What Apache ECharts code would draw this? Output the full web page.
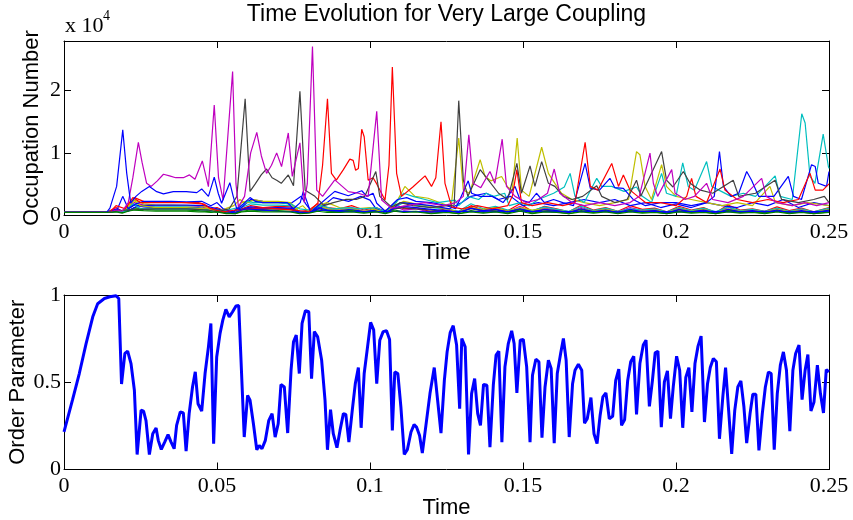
<!DOCTYPE html>
<html>
<head>
<meta charset="utf-8">
<script src="https://cdn.jsdelivr.net/npm/echarts@6/dist/echarts.min.js"></script>
<style>html,body{margin:0;padding:0;background:#fff}#c{width:853px;height:520px}</style>
</head>
<body>
<div id="c"></div>
<script>
// ---------- DATA ----------
// Time tick labels (both panels)
const timeTicks = ['0', '0.05', '0.1', '0.15', '0.2', '0.25'];
const occTicks = ['0', '1', '2'];
const orderTicks = ['0', '0.5', '1'];

// Occupation numbers, in units of 10^4: [time, value]
const occMagenta = [[0,0.043],[0.015,0.045],[0.017,0.08],[0.019,0.06],[0.021,0.2],[0.0225,0.6],[0.0243,1.17],[0.0255,0.85],[0.027,0.51],[0.0285,0.46],[0.0305,0.55],[0.0325,0.656],[0.0345,0.63],[0.0365,0.6],[0.039,0.6],[0.041,0.645],[0.0428,0.575],[0.0452,0.87],[0.0472,0.457],[0.0491,1.77],[0.0505,0.6],[0.052,0.24],[0.0551,2.31],[0.0562,0.5],[0.057,0.13],[0.059,0.3],[0.061,1.0],[0.063,1.33],[0.0645,0.95],[0.0662,0.67],[0.0678,0.8],[0.0695,1.0],[0.0711,0.78],[0.0733,1.32],[0.0746,0.62],[0.0771,1.16],[0.0785,0.2],[0.0795,0.5],[0.0812,2.71],[0.0826,0.40],[0.0845,0.3],[0.0885,0.565],[0.0929,0.376],[0.0962,0.35],[0.0994,0.30],[0.1022,1.667],[0.1038,0.24],[0.107,0.11],[0.112,0.15],[0.118,0.2],[0.124,0.15],[0.128,0.2],[0.1305,0.3],[0.1323,1.29],[0.1337,0.51],[0.1362,0.44],[0.1392,0.70],[0.1408,0.51],[0.1432,1.22],[0.1446,0.46],[0.1474,0.3],[0.151,0.2],[0.155,0.25],[0.158,0.35],[0.1602,0.74],[0.162,0.35],[0.166,0.2],[0.17,0.15],[0.175,0.2],[0.18,0.15],[0.185,0.2],[0.188,0.3],[0.1915,0.995],[0.1926,0.51],[0.194,0.3],[0.1986,0.73],[0.1997,0.35],[0.203,0.25],[0.206,0.3],[0.21,0.51],[0.212,0.25],[0.217,0.2],[0.222,0.3],[0.228,0.59],[0.2295,0.3],[0.233,0.2],[0.238,0.15],[0.242,0.2],[0.246,0.15],[0.25,0.2]];
const occGray = [[0,0.043],[0.015,0.045],[0.02,0.08],[0.03,0.1],[0.04,0.1],[0.047,0.08],[0.05,0.05],[0.054,0.1],[0.0565,0.3],[0.0592,1.87],[0.0608,0.38],[0.0625,0.5],[0.0645,0.65],[0.0662,0.74],[0.068,0.6],[0.0695,0.56],[0.071,0.51],[0.0733,0.645],[0.075,0.47],[0.0771,1.99],[0.0788,0.40],[0.0804,0.35],[0.082,0.3],[0.085,0.15],[0.088,0.2],[0.092,0.25],[0.0955,0.25],[0.0983,0.3],[0.1019,0.70],[0.1032,0.3],[0.107,0.13],[0.11,0.2],[0.114,0.15],[0.12,0.12],[0.125,0.15],[0.1275,0.16],[0.129,1.84],[0.1305,0.56],[0.132,0.3],[0.136,0.73],[0.1387,0.56],[0.142,0.35],[0.145,0.25],[0.148,0.83],[0.1495,0.35],[0.1523,0.79],[0.1539,0.46],[0.1561,0.86],[0.1583,0.51],[0.1604,0.46],[0.1632,0.3],[0.166,0.25],[0.1695,0.3],[0.1741,0.47],[0.1757,0.3],[0.18,0.2],[0.184,0.25],[0.1871,0.56],[0.1885,0.3],[0.1953,1.02],[0.1969,0.56],[0.199,0.45],[0.2024,0.70],[0.2046,0.51],[0.208,0.4],[0.212,0.35],[0.2187,0.56],[0.2205,0.3],[0.226,0.35],[0.2324,0.56],[0.2345,0.25],[0.24,0.2],[0.245,0.25],[0.2485,0.3],[0.25,0.2]];
const occRed = [[0,0.043],[0.015,0.045],[0.017,0.15],[0.02,0.1],[0.0225,0.28],[0.025,0.2],[0.03,0.2],[0.035,0.2],[0.04,0.2],[0.045,0.18],[0.048,0.1],[0.052,0.05],[0.056,0.08],[0.06,0.1],[0.065,0.12],[0.07,0.1],[0.075,0.08],[0.08,0.05],[0.083,0.2],[0.0845,0.8],[0.0861,1.87],[0.0874,0.67],[0.089,0.56],[0.0913,0.73],[0.0934,0.90],[0.0945,0.88],[0.0953,0.72],[0.0962,0.75],[0.0973,1.38],[0.0981,1.26],[0.0994,0.56],[0.101,0.6],[0.1022,0.5],[0.1049,0.24],[0.1062,0.8],[0.1073,2.38],[0.1087,0.67],[0.1103,0.30],[0.114,0.45],[0.118,0.63],[0.1201,0.46],[0.1215,0.6],[0.1232,1.5],[0.1245,0.51],[0.1267,0.13],[0.13,0.1],[0.135,0.15],[0.14,0.1],[0.145,0.15],[0.1465,0.3],[0.148,0.73],[0.1495,0.2],[0.153,0.15],[0.158,0.2],[0.163,0.15],[0.167,0.2],[0.1703,1.17],[0.172,0.46],[0.1745,0.4],[0.179,0.83],[0.1812,0.46],[0.1828,0.645],[0.185,0.4],[0.1875,0.3],[0.19,0.2],[0.195,0.2],[0.2,0.15],[0.2035,0.3],[0.2051,0.59],[0.2065,0.3],[0.21,0.2],[0.2144,0.74],[0.216,0.4],[0.22,0.25],[0.225,0.2],[0.23,0.25],[0.235,0.2],[0.24,0.25],[0.2438,0.67],[0.2455,0.4],[0.248,0.4],[0.25,0.5]];
const occYellow = [[0,0.043],[0.015,0.045],[0.02,0.08],[0.0225,0.25],[0.025,0.15],[0.03,0.12],[0.04,0.12],[0.047,0.1],[0.05,0.05],[0.0555,0.15],[0.0575,0.25],[0.059,0.2],[0.0605,0.2],[0.062,0.25],[0.065,0.22],[0.07,0.22],[0.074,0.2],[0.076,0.1],[0.078,0.15],[0.08,0.05],[0.083,0.15],[0.086,0.2],[0.09,0.12],[0.095,0.1],[0.1,0.12],[0.104,0.05],[0.108,0.15],[0.1114,0.46],[0.1147,0.30],[0.119,0.27],[0.1234,0.19],[0.1265,0.13],[0.129,1.24],[0.1305,0.4],[0.1325,0.35],[0.136,0.89],[0.1376,0.62],[0.1395,0.55],[0.143,0.62],[0.145,0.45],[0.1465,0.4],[0.1481,1.24],[0.1495,0.4],[0.152,0.3],[0.1561,1.09],[0.1583,0.67],[0.1604,0.51],[0.1626,0.35],[0.166,0.25],[0.17,0.2],[0.175,0.15],[0.18,0.2],[0.1845,0.25],[0.1871,1.02],[0.1882,0.97],[0.1899,0.46],[0.192,0.25],[0.1953,0.81],[0.1969,0.46],[0.2,0.3],[0.205,0.25],[0.21,0.2],[0.215,0.15],[0.22,0.2],[0.225,0.15],[0.2307,0.46],[0.2325,0.2],[0.238,0.15],[0.243,0.2],[0.25,0.15]];
const occCyan = [[0,0.043],[0.015,0.045],[0.02,0.06],[0.0225,0.18],[0.025,0.1],[0.03,0.1],[0.04,0.1],[0.047,0.08],[0.05,0.04],[0.057,0.12],[0.06,0.22],[0.062,0.2],[0.066,0.2],[0.07,0.2],[0.074,0.18],[0.077,0.1],[0.08,0.08],[0.084,0.15],[0.088,0.1],[0.093,0.12],[0.098,0.1],[0.102,0.12],[0.105,0.05],[0.1085,0.2],[0.111,0.35],[0.114,0.3],[0.118,0.25],[0.122,0.2],[0.1278,0.24],[0.129,0.15],[0.132,0.3],[0.1355,0.25],[0.138,0.35],[0.1405,0.3],[0.144,0.35],[0.1455,0.15],[0.149,0.2],[0.152,0.15],[0.155,0.25],[0.16,0.35],[0.1635,0.45],[0.1654,0.67],[0.167,0.30],[0.17,0.2],[0.1741,0.59],[0.1757,0.46],[0.179,0.46],[0.183,0.38],[0.1871,0.45],[0.189,0.3],[0.192,0.2],[0.1953,0.67],[0.1969,0.35],[0.2,0.3],[0.2022,0.84],[0.204,0.46],[0.206,0.4],[0.21,0.86],[0.2117,0.46],[0.214,0.4],[0.218,0.3],[0.222,0.35],[0.226,0.3],[0.2324,0.63],[0.234,0.3],[0.238,0.25],[0.2411,1.63],[0.2422,1.48],[0.2438,0.62],[0.2454,0.51],[0.2481,1.30],[0.2498,0.78],[0.25,0.75]];
const occBlue1 = [[0,0.043],[0.014,0.045],[0.015,0.11],[0.0172,0.46],[0.0192,1.37],[0.0205,0.67],[0.0218,0.19],[0.0235,0.3],[0.0254,0.38],[0.0279,0.457],[0.0303,0.376],[0.0325,0.34],[0.0357,0.376],[0.04,0.376],[0.0434,0.36],[0.045,0.42],[0.0472,0.30],[0.0491,0.61],[0.0504,0.35],[0.0515,0.19],[0.0542,0.52],[0.0553,0.30],[0.0564,0.11],[0.058,0.08],[0.06,0.1],[0.065,0.08],[0.07,0.06],[0.075,0.05],[0.08,0.04],[0.085,0.08],[0.09,0.06],[0.1,0.05],[0.11,0.06],[0.12,0.05],[0.13,0.06],[0.14,0.05],[0.15,0.06],[0.16,0.05],[0.17,0.06],[0.18,0.05],[0.19,0.06],[0.2,0.05],[0.21,0.06],[0.22,0.05],[0.23,0.06],[0.24,0.05],[0.25,0.06]];
const occBlue2 = [[0,0.043],[0.015,0.045],[0.0175,0.1],[0.0192,0.3],[0.021,0.1],[0.0235,0.18],[0.026,0.22],[0.03,0.22],[0.035,0.22],[0.04,0.21],[0.045,0.22],[0.048,0.15],[0.05,0.2],[0.052,0.1],[0.055,0.05],[0.058,0.15],[0.0608,0.28],[0.0625,0.22],[0.065,0.2],[0.07,0.2],[0.073,0.2],[0.075,0.1],[0.0772,0.2],[0.0782,0.38],[0.0795,0.2],[0.0806,0.05],[0.083,0.15],[0.0885,0.38],[0.0929,0.31],[0.0973,0.39],[0.099,0.3],[0.101,0.35],[0.1022,0.19],[0.105,0.06],[0.109,0.25],[0.112,0.28],[0.115,0.22],[0.12,0.2],[0.125,0.15],[0.128,0.1],[0.1321,0.55],[0.1332,0.35],[0.136,0.3],[0.14,0.3],[0.1435,0.2],[0.1474,0.46],[0.149,0.25],[0.152,0.2],[0.1544,0.35],[0.157,0.2],[0.16,0.25],[0.163,0.2],[0.1665,0.15],[0.1703,0.83],[0.172,0.43],[0.175,0.4],[0.1784,0.59],[0.18,0.44],[0.1828,0.43],[0.186,0.25],[0.19,0.15],[0.195,0.2],[0.2,0.2],[0.205,0.15],[0.21,0.2],[0.2125,0.3],[0.2142,1.02],[0.2155,0.46],[0.218,0.3],[0.2205,0.35],[0.2231,0.70],[0.2247,0.56],[0.227,0.3],[0.232,0.3],[0.2367,0.62],[0.2384,0.30],[0.241,0.25],[0.2443,0.81],[0.2455,0.78],[0.2465,0.51],[0.2492,0.46],[0.25,0.70]];
const occBlue3 = [[0,0.043],[0.015,0.045],[0.018,0.08],[0.021,0.06],[0.024,0.15],[0.03,0.16],[0.04,0.16],[0.046,0.15],[0.05,0.1],[0.055,0.04],[0.058,0.12],[0.061,0.25],[0.065,0.22],[0.07,0.21],[0.074,0.18],[0.0775,0.3],[0.079,0.18],[0.081,0.05],[0.084,0.12],[0.088,0.28],[0.093,0.22],[0.097,0.3],[0.1,0.24],[0.102,0.1],[0.106,0.05],[0.11,0.2],[0.115,0.18],[0.12,0.15],[0.126,0.1],[0.13,0.2],[0.133,0.3],[0.138,0.35],[0.142,0.25],[0.146,0.3],[0.15,0.15],[0.155,0.2],[0.16,0.15],[0.165,0.2],[0.17,0.25],[0.175,0.2],[0.18,0.25],[0.185,0.15],[0.19,0.2],[0.195,0.12],[0.2,0.18],[0.205,0.12],[0.21,0.2],[0.215,0.15],[0.22,0.12],[0.225,0.2],[0.23,0.15],[0.235,0.25],[0.24,0.12],[0.245,0.2],[0.25,0.15]];

// Low-level modes on a shared time grid (units of 10^4)
const bgT = [0,0.014,0.017,0.019,0.021, 0.023,0.026,0.03,0.035,0.04, 0.044,0.046,0.048,0.05,0.053, 0.056,0.058,0.061,0.065,0.07, 0.074,0.077,0.08,0.083,0.086, 0.09,0.094,0.098,0.102,0.105, 0.108,0.111,0.115,0.12,0.125, 0.129,0.133,0.137,0.141,0.145, 0.149,0.153,0.157,0.161,0.165, 0.169,0.173,0.177,0.181,0.185, 0.189,0.193,0.197,0.201,0.205, 0.209,0.213,0.217,0.221,0.225, 0.229,0.233,0.237,0.241,0.245, 0.25];
const bgRed = [0.043,0.045,0.12,0.06,0.15, 0.28,0.22,0.21,0.21,0.2, 0.2,0.17,0.1,0.12,0.05, 0.03,0.1,0.15,0.12,0.14, 0.13,0.05,0.08,0.18,0.12, 0.1,0.15,0.08,0.12,0.06, 0.18,0.1,0.12,0.05,0.1, 0.04,0.15,0.08,0.12,0.07, 0.18,0.06,0.14,0.1,0.05, 0.16,0.08,0.12,0.06,0.15, 0.09,0.11,0.05,0.14,0.08, 0.12,0.04,0.16,0.08,0.1, 0.06,0.13,0.07,0.11,0.05, 0.12];
const bgGreenA = [0.043,0.043,0.06,0.04,0.08, 0.1,0.09,0.08,0.08,0.08, 0.07,0.06,0.05,0.06,0.03, 0.02,0.06,0.08,0.07,0.07, 0.06,0.03,0.04,0.08,0.06, 0.05,0.07,0.04,0.06,0.03, 0.08,0.05,0.06,0.03,0.05, 0.02,0.07,0.04,0.06,0.03, 0.08,0.03,0.06,0.05,0.02, 0.07,0.04,0.06,0.03,0.07, 0.04,0.05,0.02,0.06,0.04, 0.05,0.02,0.07,0.04,0.05, 0.03,0.06,0.03,0.05,0.02, 0.05];
const bgMagenta = [0.043,0.044,0.1,0.05,0.12, 0.2,0.16,0.15,0.15,0.15, 0.14,0.12,0.08,0.1,0.04, 0.03,0.08,0.12,0.1,0.11, 0.1,0.04,0.06,0.14,0.1, 0.08,0.12,0.06,0.1,0.05, 0.14,0.08,0.1,0.04,0.08, 0.05,0.12,0.06,0.1,0.05, 0.14,0.05,0.11,0.08,0.04, 0.12,0.06,0.1,0.05,0.12, 0.07,0.09,0.04,0.11,0.06, 0.1,0.03,0.12,0.06,0.08, 0.05,0.1,0.05,0.09,0.04, 0.1];
const bgCyan = [0.043,0.044,0.08,0.05,0.1, 0.17,0.14,0.13,0.13,0.13, 0.12,0.1,0.07,0.09,0.03, 0.04,0.12,0.18,0.16,0.16, 0.15,0.06,0.05,0.12,0.09, 0.07,0.1,0.05,0.09,0.04, 0.12,0.2,0.16,0.12,0.1, 0.06,0.18,0.1,0.14,0.08, 0.1,0.07,0.13,0.09,0.06, 0.14,0.07,0.11,0.06,0.1, 0.08,0.1,0.05,0.12,0.07, 0.11,0.05,0.13,0.07,0.09, 0.06,0.11,0.06,0.1,0.05, 0.11];
const bgYellow = [0.043,0.044,0.07,0.05,0.12, 0.24,0.18,0.16,0.16,0.15, 0.15,0.13,0.08,0.1,0.04, 0.06,0.2,0.24,0.2,0.2, 0.18,0.05,0.06,0.15,0.1, 0.08,0.1,0.06,0.1,0.05, 0.14,0.22,0.18,0.14,0.1, 0.05,0.12,0.09,0.12,0.06, 0.12,0.08,0.1,0.07,0.05, 0.1,0.06,0.09,0.05,0.08, 0.06,0.08,0.04,0.1,0.06, 0.09,0.04,0.1,0.06,0.07, 0.05,0.09,0.05,0.08,0.04, 0.09];
const bgGray = [0.043,0.044,0.06,0.04,0.07, 0.12,0.1,0.1,0.1,0.1, 0.09,0.08,0.06,0.07,0.03, 0.04,0.08,0.1,0.09,0.1, 0.09,0.04,0.05,0.1,0.07, 0.06,0.08,0.05,0.07,0.03, 0.1,0.12,0.1,0.08,0.06, 0.04,0.1,0.06,0.08,0.05, 0.09,0.05,0.08,0.06,0.04, 0.09,0.05,0.07,0.04,0.07, 0.05,0.07,0.03,0.08,0.05, 0.07,0.03,0.08,0.05,0.06, 0.04,0.07,0.04,0.06,0.03, 0.07];
const bgBlue = [0.043,0.044,0.09,0.05,0.1, 0.16,0.13,0.12,0.12,0.12, 0.11,0.1,0.07,0.08,0.03, 0.03,0.09,0.13,0.11,0.12, 0.11,0.04,0.05,0.12,0.08, 0.07,0.09,0.05,0.08,0.04, 0.11,0.14,0.12,0.09,0.07, 0.04,0.11,0.07,0.09,0.05, 0.1,0.05,0.09,0.07,0.04, 0.1,0.05,0.08,0.04,0.09, 0.05,0.07,0.03,0.09,0.05, 0.08,0.03,0.09,0.05,0.07, 0.04,0.08,0.04,0.07,0.03, 0.08];
const bgGreenB = [0.043,0.043,0.05,0.03,0.06, 0.08,0.07,0.06,0.06,0.06, 0.05,0.05,0.04,0.05,0.02, 0.02,0.05,0.06,0.05,0.05, 0.05,0.02,0.03,0.06,0.04, 0.04,0.05,0.03,0.05,0.02, 0.06,0.04,0.05,0.02,0.04, 0.02,0.05,0.03,0.05,0.02, 0.06,0.02,0.05,0.04,0.02, 0.05,0.03,0.05,0.02,0.05, 0.03,0.04,0.02,0.05,0.03, 0.04,0.02,0.05,0.03,0.04, 0.02,0.05,0.02,0.04,0.02, 0.04];

// Order parameter: [time, value]
const orderParam = [[0,0.215],[0.0028,0.40],[0.005,0.55],[0.0072,0.72],[0.0094,0.875],[0.011,0.95],[0.0132,0.98],[0.015,0.99],[0.017,0.996],[0.0179,0.98],[0.0188,0.49],[0.0199,0.665],[0.0208,0.678],[0.0219,0.607],[0.023,0.454],[0.0239,0.086],[0.0252,0.34],[0.026,0.335],[0.0268,0.28],[0.0279,0.086],[0.029,0.205],[0.0301,0.238],[0.0308,0.167],[0.0318,0.115],[0.0329,0.157],[0.034,0.20],[0.035,0.157],[0.036,0.119],[0.0368,0.253],[0.038,0.33],[0.039,0.324],[0.0399,0.105],[0.0409,0.32],[0.042,0.473],[0.0429,0.56],[0.0438,0.377],[0.045,0.335],[0.0461,0.55],[0.0472,0.703],[0.048,0.837],[0.0489,0.148],[0.0499,0.645],[0.051,0.78],[0.0519,0.856],[0.0529,0.918],[0.054,0.875],[0.0551,0.904],[0.0562,0.937],[0.0571,0.94],[0.0589,0.186],[0.06,0.425],[0.0608,0.397],[0.0619,0.262],[0.063,0.113],[0.0638,0.138],[0.0647,0.119],[0.0658,0.167],[0.0669,0.28],[0.068,0.32],[0.069,0.186],[0.07,0.262],[0.0709,0.487],[0.072,0.473],[0.0731,0.209],[0.0742,0.569],[0.075,0.732],[0.0759,0.77],[0.0769,0.55],[0.0778,0.837],[0.0789,0.91],[0.08,0.904],[0.0809,0.52],[0.0818,0.79],[0.0829,0.76],[0.0842,0.626],[0.0853,0.397],[0.0861,0.113],[0.0871,0.343],[0.088,0.205],[0.0892,0.125],[0.0902,0.224],[0.0913,0.32],[0.0921,0.316],[0.0931,0.157],[0.0942,0.339],[0.0952,0.492],[0.0962,0.584],[0.0971,0.239],[0.0981,0.55],[0.0992,0.703],[0.1002,0.843],[0.1012,0.80],[0.1022,0.492],[0.1032,0.741],[0.1043,0.79],[0.1054,0.795],[0.1064,0.745],[0.1073,0.224],[0.1081,0.559],[0.1091,0.55],[0.1101,0.358],[0.1112,0.086],[0.1122,0.113],[0.1134,0.215],[0.1144,0.257],[0.1152,0.243],[0.1162,0.195],[0.1171,0.094],[0.1182,0.243],[0.1196,0.435],[0.121,0.584],[0.1221,0.397],[0.1232,0.209],[0.1243,0.511],[0.1252,0.674],[0.1262,0.784],[0.1272,0.824],[0.1283,0.713],[0.1293,0.349],[0.13,0.751],[0.1311,0.703],[0.1322,0.086],[0.1332,0.435],[0.1342,0.521],[0.1352,0.32],[0.1361,0.253],[0.1371,0.488],[0.1382,0.483],[0.1392,0.128],[0.1403,0.483],[0.1412,0.655],[0.1421,0.678],[0.1431,0.157],[0.1441,0.588],[0.1452,0.722],[0.1463,0.795],[0.1471,0.722],[0.148,0.439],[0.1491,0.741],[0.1501,0.745],[0.1512,0.588],[0.1523,0.157],[0.1531,0.54],[0.1542,0.632],[0.1552,0.617],[0.1562,0.182],[0.1572,0.473],[0.1583,0.626],[0.1592,0.579],[0.1602,0.151],[0.1612,0.55],[0.1623,0.665],[0.1632,0.751],[0.1641,0.626],[0.1651,0.186],[0.1662,0.492],[0.167,0.569],[0.1681,0.603],[0.1692,0.569],[0.1701,0.266],[0.171,0.291],[0.1722,0.412],[0.1732,0.205],[0.1742,0.148],[0.1752,0.31],[0.1761,0.416],[0.1771,0.439],[0.1782,0.291],[0.1793,0.305],[0.1803,0.511],[0.1813,0.575],[0.1822,0.253],[0.1832,0.285],[0.1842,0.508],[0.1852,0.617],[0.1862,0.649],[0.1871,0.316],[0.1882,0.607],[0.1893,0.713],[0.1902,0.741],[0.1913,0.362],[0.1923,0.511],[0.1932,0.669],[0.1941,0.678],[0.1952,0.243],[0.1962,0.502],[0.1972,0.565],[0.1982,0.291],[0.1991,0.473],[0.2002,0.649],[0.2012,0.569],[0.2022,0.239],[0.2032,0.527],[0.2042,0.584],[0.2052,0.33],[0.2062,0.607],[0.2072,0.707],[0.2082,0.764],[0.2093,0.272],[0.2103,0.492],[0.2112,0.584],[0.2122,0.636],[0.2132,0.617],[0.2142,0.176],[0.2153,0.416],[0.2162,0.584],[0.2172,0.339],[0.2182,0.09],[0.2192,0.339],[0.2202,0.473],[0.2212,0.508],[0.2222,0.358],[0.2231,0.151],[0.2242,0.32],[0.2251,0.431],[0.2261,0.431],[0.2271,0.109],[0.2282,0.32],[0.2292,0.473],[0.2302,0.559],[0.2311,0.55],[0.2321,0.113],[0.2331,0.435],[0.2341,0.598],[0.2351,0.674],[0.2361,0.569],[0.2372,0.22],[0.2382,0.569],[0.2391,0.665],[0.2402,0.713],[0.2412,0.40],[0.2422,0.569],[0.2431,0.659],[0.2441,0.335],[0.2451,0.387],[0.2462,0.598],[0.2472,0.435],[0.2482,0.324],[0.2491,0.573],[0.25,0.559]];

// ---------- CHART ----------
const SERIF = '"Liberation Serif", "Times New Roman", serif';
const SANS = '"Liberation Sans", Arial, sans-serif';
const AX = '#000';

function zip(t, v) { const out = []; for (let i = 0; i < t.length && i < v.length; i++) out.push([t[i], v[i]]); return out; }

const chart = echarts.init(document.getElementById('c'), null, { renderer: 'canvas' });

function xAx(grid, pos, withLabels) {
  return {
    type: 'value', gridIndex: grid, position: pos, min: 0, max: 0.25, interval: 0.05,
    axisLine: { show: true, onZero: false, lineStyle: { color: AX, width: 1 } },
    axisTick: { show: true, inside: true, length: 7, lineStyle: { color: AX } },
    splitLine: { show: false },
    axisLabel: withLabels ? { show: true, margin: 6, fontFamily: SERIF, fontSize: 22, color: '#000',
      formatter: v => timeTicks[Math.round(v / 0.05)] } : { show: false },
    name: withLabels ? 'Time' : '', nameLocation: 'middle', nameGap: 27, nameMoveOverlap: false,
    nameTextStyle: { fontFamily: SANS, fontSize: 22, color: '#000' }
  };
}
function yAx(grid, pos, max, interval, labels, name, gap) {
  const withLabels = pos === 'left';
  return {
    type: 'value', gridIndex: grid, position: pos, min: 0, max: max, interval: interval,
    axisLine: { show: true, onZero: false, lineStyle: { color: AX, width: 1 } },
    axisTick: { show: true, inside: true, length: 7, lineStyle: { color: AX } },
    splitLine: { show: false },
    axisLabel: withLabels ? { show: true, margin: 3, fontFamily: SERIF, fontSize: 22, color: '#000',
      formatter: v => labels[Math.round(v / interval)] } : { show: false },
    name: withLabels ? name : '', nameLocation: 'middle', nameGap: gap, nameRotate: 90, nameMoveOverlap: false,
    nameTextStyle: { fontFamily: SANS, fontSize: 22, color: '#000' }
  };
}

function occLine(data, color) {
  return { type: 'line', xAxisIndex: 0, yAxisIndex: 0, data: data, showSymbol: false, symbol: 'none',
    smooth: false, lineStyle: { color: color, width: 1.2 }, silent: true, animation: false, clip: true };
}

const C = { b: '#0000FF', g: '#008000', r: '#FF0000', c: '#00BFBF', m: '#BF00BF', y: '#BFBF00', k: '#404040' };

const option = {
  animation: false,
  backgroundColor: '#fff',
  grid: [
    { left: 64, top: 41, width: 765, height: 174, containLabel: false, outerBoundsMode: 'none' },
    { left: 64, top: 295, width: 765, height: 174.5, containLabel: false, outerBoundsMode: 'none' }
  ],
  xAxis: [xAx(0, 'bottom', true), xAx(0, 'top', false), xAx(1, 'bottom', true), xAx(1, 'top', false)],
  yAxis: [
    yAx(0, 'left', 2.8, 1, occTicks, 'Occupation Number', 21),
    yAx(0, 'right', 2.8, 1, occTicks, '', 0),
    yAx(1, 'left', 1, 0.5, orderTicks, 'Order Parameter', 35),
    yAx(1, 'right', 1, 0.5, orderTicks, '', 0)
  ],
  graphic: [
    { type: 'text', x: 446.5, y: 3, style: { text: 'Time Evolution for Very Large Coupling',
      font: '23px ' + SANS, fill: '#000', textAlign: 'center', textVerticalAlign: 'top' } },
    { type: 'text', x: 65, y: 15, style: { text: 'x 10', font: '22px ' + SERIF, fill: '#000', textAlign: 'left', textVerticalAlign: 'top' } },
    { type: 'text', x: 103, y: 9, style: { text: '4', font: '14px ' + SERIF, fill: '#000', textAlign: 'left', textVerticalAlign: 'top' } }
  ],
  series: [
    occLine(zip(bgT, bgRed), C.r),
    occLine(zip(bgT, bgMagenta), C.m),
    occLine(zip(bgT, bgCyan), C.c),
    occLine(zip(bgT, bgYellow), C.y),
    occLine(zip(bgT, bgGray), C.k),
    occLine(zip(bgT, bgBlue), C.b),
    occLine(zip(bgT, bgGreenA), C.g),
    occLine(occBlue3, C.b),
    occLine(occYellow, C.y),
    occLine(occCyan, C.c),
    occLine(occBlue2, C.b),
    occLine(occRed, C.r),
    occLine(occGray, C.k),
    occLine(occMagenta, C.m),
    occLine(occBlue1, C.b),
    occLine(zip(bgT, bgGreenB), C.g),
    { type: 'line', xAxisIndex: 2, yAxisIndex: 2, data: orderParam, showSymbol: false, symbol: 'none',
      smooth: false, lineStyle: { color: '#0000FF', width: 3 }, silent: true, animation: false, clip: true }
  ]
};
chart.setOption(option);
</script>
</body>
</html>
